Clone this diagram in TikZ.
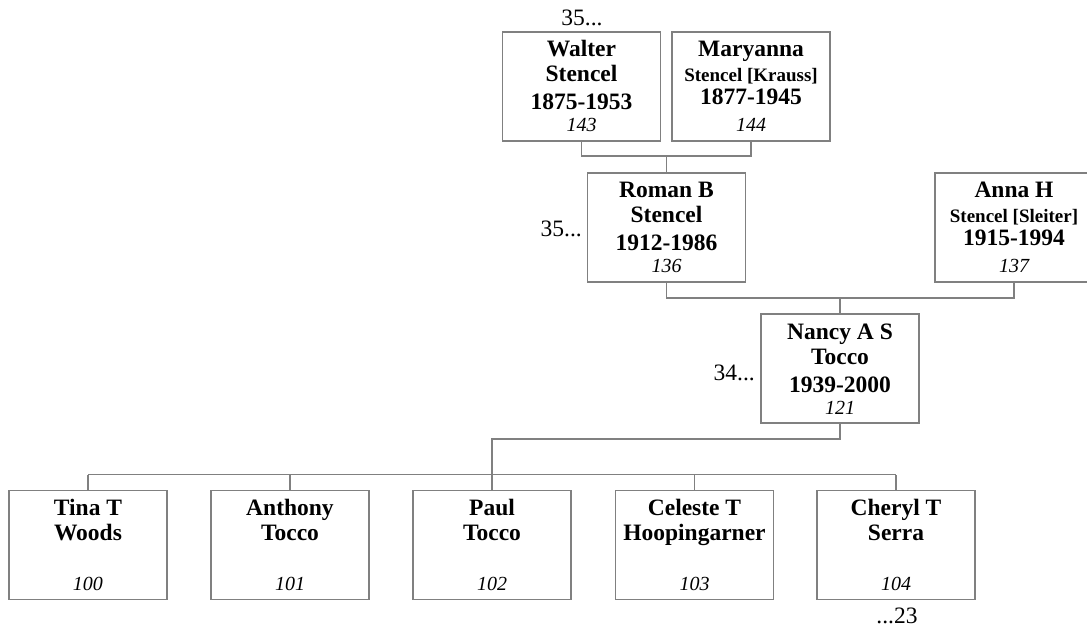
\documentclass[tikz,border=0pt]{standalone}
\usepackage{fontspec}
\setmainfont{Liberation Serif}
\definecolor{boxgray}{RGB}{128,128,128}
\tikzset{
  person/.style={draw=boxgray, line width=1.3pt, inner sep=0pt, outer sep=0pt},
  link/.style={draw=boxgray, line width=1.3pt},
  genlabel/.style={inner sep=0pt, font=\fontsize{23.5}{25}\selectfont},
}
\newcommand\namefont{\fontsize{23.5}{25}\selectfont\bfseries}
\newcommand\maidenfont{\fontsize{19}{20}\selectfont\bfseries}
\newcommand\idfont{\fontsize{20}{22}\selectfont\itshape}
\newcommand\cardline[2]{\hbox to 158pt{\hss\vrule width 0pt height #1 depth 0pt\raisebox{0pt}[0pt][0pt]{#2}\hss}}
\newcommand\famcard[5][28pt]{\vbox to 109pt{\offinterlineskip
  \cardline{25pt}{\namefont #2}
  \cardline{25pt}{\namefont #3}
  \cardline{#1}{\namefont #4}
  \cardline{\dimexpr50pt-#1\relax}{\idfont #5}
  \vss}}
\begin{document}
\begin{tikzpicture}[x=1pt,y=-1pt]
\useasboundingbox (0,0) rectangle (1087,628);

% Marking grandparents Walter and Maryanna
\node[person] (walter) at (581.5,86.5) {\famcard{Walter}{Stencel}{1875-1953}{143}};
\node[person] (maryanna) at (751,86.5) {\famcard[23pt]{Maryanna}{\maidenfont Stencel [Krauss]}{1877-1945}{144}};
\node[genlabel, anchor=base] (walterup) at (582,26) {35...};

% Marking parents Roman and Anna
\node[person] (roman) at (666.5,227.5) {\famcard{Roman B}{Stencel}{1912-1986}{136}};
\node[person] (anna) at (1014,227.5) {\famcard[23pt]{Anna H}{\maidenfont Stencel [Sleiter]}{1915-1994}{137}};
\node[genlabel, anchor=base east] (romanup) at (582,237) {35...};

% Marking Nancy
\node[person] (nancy) at (840,368.5) {\famcard{Nancy A S}{Tocco}{1939-2000}{121}};
\node[genlabel, anchor=base east] (nancyup) at (755,380) {34...};

% Marking the children
\node[person] (tina) at (88,545) {\famcard{Tina T}{Woods}{}{100}};
\node[person] (anthony) at (290,545) {\famcard{Anthony}{Tocco}{}{101}};
\node[person] (paul) at (492,545) {\famcard{Paul}{Tocco}{}{102}};
\node[person] (celeste) at (694.5,545) {\famcard{Celeste T}{Hoopingarner}{}{103}};
\node[person] (cheryl) at (896,545) {\famcard{Cheryl T}{Serra}{}{104}};
\node[genlabel, anchor=base] (cheryldown) at (897,623) {...23};

% Drawing couple Walter Maryanna
\draw[link] (walter.south) -- ++(0,15) -| (maryanna.south);
\draw[link] (roman.north) -- ++(0,-17);

% Drawing couple Roman Anna
\draw[link] (roman.south) -- ++(0,16) -| (anna.south);
\draw[link] (nancy.north) -- ++(0,-16);

% Drawing Nancy to children
\draw[link] (nancy.south) -- ++(0,16) -| (paul.north);
\draw[link] ([yshift=16pt]tina.north) -- ([yshift=16pt]cheryl.north);
\foreach \kid in {tina,anthony,celeste,cheryl}
  \draw[link] (\kid.north) -- ++(0,-16);
\end{tikzpicture}
\end{document}
